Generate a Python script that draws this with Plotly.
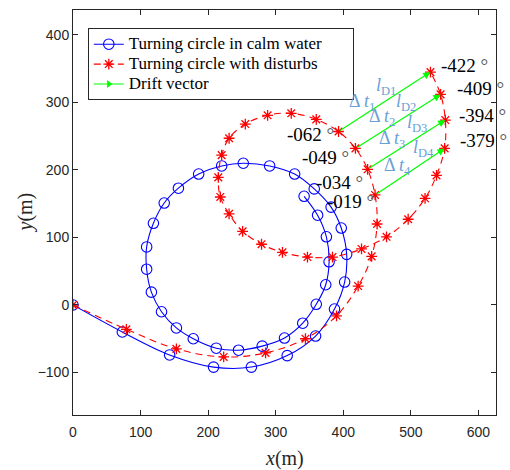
import plotly.graph_objects as go

# ---- data (metres) ----
calm_x = [0, 73, 143, 208, 264, 317, 359, 387, 402, 405, 397, 382, 357, 328, 291, 252, 220, 186, 156, 135,
          119, 109, 109, 116, 131, 153, 178, 212, 245, 280, 313, 340, 360, 374, 379, 375, 362, 342]
calm_y = [0, -40, -74, -92, -92, -75, -46, -6, 34, 75, 114, 145, 172, 194, 206, 210, 206, 194, 173, 151,
          121, 86, 53, 19, -10, -34, -50, -64, -67, -61, -49, -27, 1, 30, 64, 101, 133, 161]

dist_x = [0, 79, 153, 223, 285, 344, 390, 422, 442, 450, 447, 436, 418, 393, 360, 323, 288, 255, 231, 220,
          215, 218, 231, 251, 279, 310, 347, 384, 427, 464, 496, 521, 538, 550, 551, 544, 529]
dist_y = [0, -36, -65, -77, -71, -50, -16, 28, 72, 120, 163, 201, 232, 257, 275, 284, 281, 268, 247, 222,
          189, 160, 135, 109, 90, 78, 71, 71, 83, 101, 127, 158, 192, 232, 274, 312, 345]

# drift vectors: index of start point and end point on the disturbed track
drift_start = [13, 12, 11, 10]
drift_end = [36, 35, 34, 33]
start_heading = ["-062", "-049", "-034", "-019"]
end_heading = ["-422", "-409", "-394", "-379"]
drift_names = ["1", "2", "3", "4"]

series_names = ["Turning circle in calm water", "Turning circle with disturbs", "Drift vector"]

x_ticks = [0, 100, 200, 300, 400, 500, 600]
y_ticks = [-100, 0, 100, 200, 300, 400]

# ---- styles ----
SERIF = "Liberation Serif"
SANS = "Liberation Sans"
LBLUE = "#6A9FD8"
NB = "\u00a0"


def leg(name, pad=0):
    return "<span style='font-size:17px'>" + name + NB * pad + "</span>"


fig = go.Figure()
fig.add_trace(go.Scatter(
    x=calm_x, y=calm_y, mode="lines+markers", name=leg(series_names[0], 6),
    line=dict(color="#0000FF", width=1.1, shape="spline"),
    marker=dict(symbol="circle-open", size=10.5, color="#0000FF", line=dict(width=1.1, color="#0000FF")),
))
fig.add_trace(go.Scatter(
    x=dist_x, y=dist_y, mode="lines+markers", name=leg(series_names[1]),
    line=dict(color="#FF0000", width=1.1, dash="7px,5px", shape="spline"),
    marker=dict(symbol="asterisk-open", size=9, color="#FF0000", line=dict(width=1.3, color="#FF0000")),
))
fig.add_trace(go.Scatter(
    x=[None], y=[None], mode="lines+markers", name=leg(series_names[2]),
    line=dict(color="#00FF00", width=1.2),
    marker=dict(symbol="triangle-right", size=7, color="#00FF00"),
))

annotations = []
# drift arrows
for i, (s, e) in enumerate(zip(drift_start, drift_end)):
    annotations.append(dict(
        x=dist_x[e], y=dist_y[e], ax=dist_x[s], ay=dist_y[s], xref="x", yref="y", axref="x", ayref="y",
        text="", showarrow=True, arrowhead=2, arrowsize=1.2, arrowwidth=1.2, arrowcolor="#00FF00",
        standoff=0, startstandoff=0,
    ))

# labels along the drift vectors
f_l = [0.52, 0.59, 0.64, 0.70]
f_t = [0.26, 0.31, 0.32, 0.32]
for i, (s, e) in enumerate(zip(drift_start, drift_end)):
    x0, y0, x1, y1 = dist_x[s], dist_y[s], dist_x[e], dist_y[e]
    lx, ly = x0 + f_l[i] * (x1 - x0), y0 + f_l[i] * (y1 - y0)
    tx, ty = x0 + f_t[i] * (x1 - x0), y0 + f_t[i] * (y1 - y0)
    annotations.append(dict(
        x=lx, y=ly, xref="x", yref="y", showarrow=False, yshift=14,
        text="<i>l</i><sub>D" + drift_names[i] + "</sub>",
        font=dict(family=SERIF, size=18, color=LBLUE),
    ))
    annotations.append(dict(
        x=tx, y=ty, xref="x", yref="y", showarrow=False, yshift=14,
        text="Δ <i>t</i><sub>" + drift_names[i] + "</sub>",
        font=dict(family=SERIF, size=18, color=LBLUE),
    ))

# heading labels
start_shift = [(-3, -3), (-4, -9), (-3, -13), (1, -7)]
end_shift = [(9, 7), (14, 6), (12, 5), (13, 8)]
for i, (s, e) in enumerate(zip(drift_start, drift_end)):
    annotations.append(dict(
        x=dist_x[s], y=dist_y[s], xref="x", yref="y", showarrow=False, xanchor="right",
        xshift=start_shift[i][0], yshift=start_shift[i][1],
        text=start_heading[i] + " <span style='color:#555'>°</span>",
        font=dict(family=SERIF, size=19, color="black"),
    ))
    annotations.append(dict(
        x=dist_x[e], y=dist_y[e], xref="x", yref="y", showarrow=False, xanchor="left",
        xshift=end_shift[i][0], yshift=end_shift[i][1],
        text=end_heading[i] + " <span style='color:#555'>°</span>",
        font=dict(family=SERIF, size=19, color="black"),
    ))

# axis titles
annotations.append(dict(x=0.5, y=0, xref="paper", yref="paper", yanchor="middle", yshift=-43,
                        showarrow=False, text="<i>x</i>(m)", font=dict(family=SERIF, size=20, color="#262626")))
annotations.append(dict(x=0, y=0.5, xref="paper", yref="paper", xanchor="center", xshift=-48,
                        showarrow=False, text="<i>y</i>(m)", textangle=-90,
                        font=dict(family=SERIF, size=20, color="#262626")))

axis_common = dict(showline=True, linecolor="#262626", linewidth=1, mirror="ticks", ticks="inside",
                   ticklen=5, tickcolor="#262626", showgrid=False, zeroline=False,
                   tickfont=dict(family=SANS, size=14, color="#262626"))

fig.update_layout(
    width=510, height=470, margin=dict(l=73, r=14, t=10, b=55),
    paper_bgcolor="white", plot_bgcolor="white",
    xaxis=dict(range=[0, 626], tickvals=x_ticks, ticklabelstandoff=4, **axis_common),
    yaxis=dict(range=[-163, 437], tickvals=y_ticks, **axis_common),
    showlegend=True,
    legend=dict(x=0.035, y=0.955, xanchor="left", yanchor="top", bgcolor="white",
                bordercolor="#262626", borderwidth=1, font=dict(family=SERIF, size=13, color="black"),
                tracegroupgap=0, itemwidth=30),
    annotations=annotations,
)

fig.write_html("out.html")
